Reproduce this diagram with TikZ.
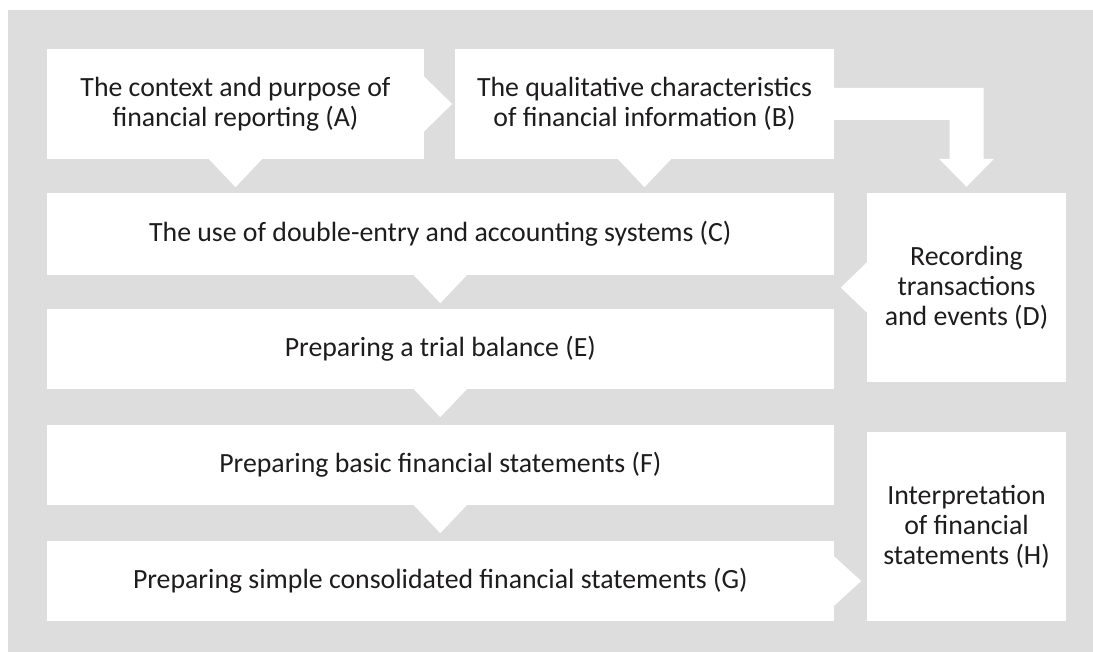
\documentclass[tikz,border=0pt]{standalone}
\usepackage{fontspec}
\setmainfont{Carlito}
\usetikzlibrary{calc}
\definecolor{bggray}{RGB}{220,221,220}
\definecolor{txt}{RGB}{30,28,28}
\tikzset{
  box/.style={fill=white, draw=none, inner sep=0pt, align=center, text=txt,
    font=\fontsize{27.8}{30}\selectfont},
  arr/.style={fill=white, draw=none}
}
\begin{document}
\begin{tikzpicture}[x=1pt,y=-1pt]
\useasboundingbox (0,0) rectangle (1093,652);
\fill[bggray] (8,10) rectangle (1093,652);
% boxes
\node[box, minimum width=377.8pt, minimum height=110pt] (A) at (235.5,104) {The context and purpose of\\financial reporting (A)};
\node[box, minimum width=379pt, minimum height=110pt] (B) at (644.5,104) {The qualitative characteristics\\of financial information (B)};
\node[box, minimum width=787.4pt, minimum height=82pt] (C) at (440.3,234) {The use of double-entry and accounting systems (C)};
\node[box, minimum width=199pt, minimum height=189pt] (D) at (966.5,287.5) {Recording\\transactions\\and events (D)};
\node[box, minimum width=787.4pt, minimum height=80pt] (E) at (440.3,349) {Preparing a trial balance (E)};
\node[box, minimum width=787.4pt, minimum height=80pt] (F) at (440.3,465) {Preparing basic financial statements (F)};
\node[box, minimum width=787.4pt, minimum height=80pt] (G) at (440.3,581) {Preparing simple consolidated financial statements (G)};
\node[box, minimum width=199pt, minimum height=189pt] (H) at (966.5,526.5) {Interpretation\\of financial\\statements (H)};
% down arrows
\foreach \n in {A,B,C,E,F}{
  \fill[arr] ($(\n.south)+(-27.5,-1)$) -- ($(\n.south)+(27.5,-1)$) -- ($(\n.south)+(0,28)$) -- cycle;
}
% A -> B
\fill[arr] ($(A.east)+(-1,-28)$) -- ($(A.east)+(27.5,0)$) -- ($(A.east)+(-1,28)$) -- cycle;
% G -> H
\fill[arr] ($(G.east)+(-1,-25.5)$) -- ($(G.east)+(27,0)$) -- ($(G.east)+(-1,25.5)$) -- cycle;
% D -> C
\fill[arr] ($(D.west)+(1,-26)$) -- ($(D.west)+(-26,0)$) -- ($(D.west)+(1,26)$) -- cycle;
% B -> D bent arrow
\fill[arr] ($(B.east)+(-1,-16)$) -| ($(D.north)+(17,-34)$) -- ($(D.north)+(27.5,-34)$) -- ($(D.north)+(0,-6)$) -- ($(D.north)+(-27.5,-34)$) -- ($(D.north)+(-17,-34)$) |- ($(B.east)+(-1,16)$) -- cycle;
\end{tikzpicture}
\end{document}
